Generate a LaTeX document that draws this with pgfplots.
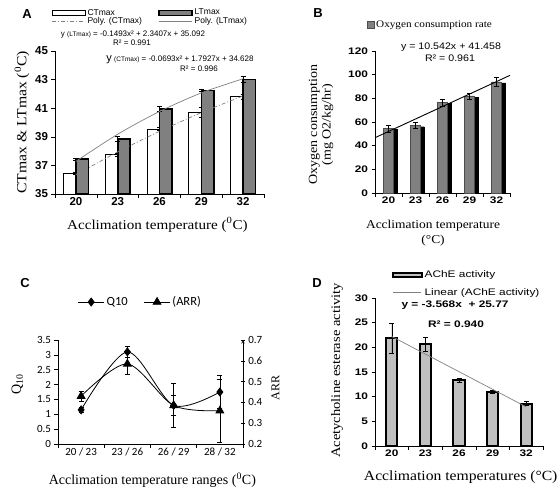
\documentclass[border=0pt]{standalone}
\usepackage{pgfplots}
\usepackage{pgfplotstable}
\pgfplotsset{compat=1.18}
\usepackage{fontspec}
\setmainfont{Liberation Serif}
\newfontfamily\serifW{Liberation Serif}[FakeStretch=1.12]
\newfontfamily\arial{Liberation Sans}
\newfontfamily\arialM{Liberation Sans}[FakeStretch=1.12]
\newfontfamily\arialD{Liberation Sans}[FakeStretch=1.25]
\newfontfamily\calibri{Carlito}
\definecolor{dgray}{HTML}{808080}
\definecolor{lgray}{HTML}{C0C0C0}

\pgfplotstableread{
x ct cte lt lte
0 36.45 0.05 37.45 0.08
1 37.75 0.08 38.85 0.18
2 39.55 0.12 40.95 0.2
3 40.7 0.35 42.25 0.1
4 41.8 0.2 43.0 0.2
}\dataA
\pgfplotstableread{
x ctp ltp
0 36.35 37.28
1 37.94 39.18
2 39.38 40.77
3 40.69 42.07
4 41.86 43.06
}\polyA
\pgfplotstableread{
x y e s
0 54.5 3 53.5
1 57 2.5 56
2 76.5 3 75.5
3 82 2.5 81
4 94 3.5 93
}\dataB
\pgfplotstableread{
x y e
0 21.8 3.0
1 20.6 1.4
2 13.3 0.4
3 11.0 0.25
4 8.6 0.4
}\dataD

\pgfplotsset{
 excel/.style={
  scale only axis, anchor=south west,
  axis x line=bottom, axis y line=left,
  axis line style={-, black, line width=0.6pt},
  tick align=outside, major tick length=3.5pt,
  every tick/.style={black, line width=0.6pt},
  /pgf/number format/assume math mode=true,
  label style={font=\serifW\fontsize{13.5}{15}\selectfont},
  tick label style={font=\arial\bfseries\fontsize{11.5}{13}\selectfont},
  error bars/error bar style={black, line width=0.6pt},
  error bars/error mark options={black, rotate=90, mark size=2.5pt, line width=0.6pt},
  legend style={draw=none, fill=none, inner sep=0pt, outer sep=0pt},
  legend cell align=left,
 },
 boxlegA/.style={legend image code/.code={\draw[##1] (0pt,-2.5pt) rectangle (33pt,2.5pt);}},
 linelegA/.style={legend image code/.code={\draw[##1] (0pt,0pt) -- (33pt,0pt);}},
 boxlegB/.style={legend image code/.code={\draw[##1] (0pt,-3.5pt) rectangle (7pt,3.5pt);}},
 boxlegD/.style={legend image code/.code={\draw[##1, line width=1.8pt] (0pt,-2pt) rectangle (29pt,2pt);}},
 linelegD/.style={legend image code/.code={\draw[##1] (0pt,0pt) -- (28pt,0pt);}},
 marklegC/.style={legend image code/.code={\draw[mark repeat=2,mark phase=2,##1] plot coordinates {(0pt,0pt) (13pt,0pt) (26pt,0pt)};}},
}

\begin{document}
\begin{tikzpicture}
\path[use as bounding box] (0pt,0pt) rectangle (559pt,-488pt);

% ---------------- Panel A ----------------
\begin{axis}[excel, at={(55pt,-194pt)}, width=209pt, height=143pt,
  xmin=-0.5, xmax=4.5, ymin=35, ymax=45,
  ytick={35,37,39,41,43,45},
  xtick={-0.5,0.5,1.5,2.5,3.5,4.5}, xticklabels={},
  extra x ticks={0,1,2,3,4}, extra x tick labels={20,23,26,29,32},
  extra x tick style={major tick length=0pt},
  ylabel={CTmax \& LTmax (\textsuperscript{0}C)},
  xlabel={Acclimation temperature (\textsuperscript{0}C)},
  ylabel style={at={(axis description cs:-0.158,0.5)}, anchor=center, font=\serifW\fontsize{14}{15}\selectfont},
  xlabel style={at={(axis description cs:0.49,-0.215)}, anchor=center},
  legend columns=2,
  legend style={at={(axis description cs:-0.015,1.307)}, anchor=north west,
    font=\arial\fontsize{8.5}{10}\selectfont,
    /tikz/every even column/.append style={column sep=14pt}, row sep=-3pt},
]
\addplot[ybar, bar width=0.3, bar shift=-0.15, fill=white, draw=black, line width=0.7pt,
  boxlegA, error bars/.cd, y dir=both, y explicit]
  table[x=x, y=ct, y error=cte] {\dataA};
\addlegendentry{CTmax}
\addplot[ybar, bar width=0.3, bar shift=0.15, fill=dgray, draw=black, line width=1.6pt,
  boxlegA, error bars/.cd, y dir=both, y explicit]
  table[x=x, y=lt, y error=lte] {\dataA};
\addlegendentry{LTmax}
\addplot[dgray, line width=0.7pt, dash pattern=on 4pt off 2pt on 1pt off 2pt, smooth, linelegA]
  table[x=x, y=ctp] {\polyA};
\addlegendentry{Poly. (CTmax)}
\addplot[dgray, line width=0.7pt, smooth, linelegA]
  table[x=x, y=ltp] {\polyA};
\addlegendentry{Poly. (LTmax)}
\end{axis}

% ---------------- Panel B ----------------
\begin{axis}[excel, at={(375pt,-193pt)}, width=135pt, height=142pt,
  xmin=-0.5, xmax=4.5, ymin=0, ymax=120,
  ytick={0,20,40,60,80,100,120},
  xtick={-0.5,0.5,1.5,2.5,3.5,4.5}, xticklabels={},
  extra x ticks={0,1,2,3,4}, extra x tick labels={20,23,26,29,32},
  extra x tick style={major tick length=0pt},
  tick label style={font=\arialD\bfseries\fontsize{9.5}{11}\selectfont},
  ylabel={Oxygen consumption\\(mg O2/kg/hr)},
  ylabel style={align=center, at={(axis description cs:-0.40,0.48)}, anchor=center, font=\serifW\fontsize{12.5}{13.5}\selectfont},
  xlabel={Acclimation temperature\\(°C)},
  xlabel style={align=center, at={(axis description cs:0.43,-0.28)}, anchor=center, font=\serifW\fontsize{12}{15}\selectfont},
  legend style={at={(axis description cs:0.41,1.183)}, anchor=center,
    font=\serifW\fontsize{10}{12}\selectfont},
]
\addplot[ybar, bar width=0.37, bar shift=0.13, fill=black, draw=black, forget plot]
  table[x=x, y=s] {\dataB};
\addplot[ybar, bar width=0.37, bar shift=0, fill=dgray, draw=black!70, line width=0.4pt,
  boxlegB, error bars/.cd, y dir=both, y explicit]
  table[x=x, y=y, y error=e] {\dataB};
\addlegendentry{Oxygen consumption rate}
\addplot[black, line width=0.9pt, forget plot] coordinates {(-0.5,46.73) (4.5,99.44)};
\end{axis}

% ---------------- Panel C ----------------
\begin{axis}[excel, at={(58pt,-444pt)}, width=185pt, height=104pt,
  xmin=-0.5, xmax=3.5, ymin=0, ymax=3.5,
  ytick={0,0.5,1,1.5,2,2.5,3,3.5}, yticklabels={0,0.5,1,1.5,2,2.5,3,3.5},
  xtick={-0.5,0.5,1.5,2.5,3.5}, xticklabels={},
  extra x ticks={0,1,2,3}, extra x tick labels={20 / 23,23 / 26,26 / 29,28 / 32},
  extra x tick style={major tick length=0pt},
  tick label style={font=\calibri\fontsize{11}{12}\selectfont},
  ylabel={Q\textsubscript{10}},
  ylabel style={at={(axis description cs:-0.22,0.57)}, anchor=center, font=\fontsize{14}{15}\selectfont},
  xlabel={Acclimation temperature ranges (\textsuperscript{0}C)},
  xlabel style={at={(axis description cs:0.51,-0.35)}, anchor=center, font=\fontsize{14}{15}\selectfont},
]
\addplot[black, line width=0.8pt, smooth, mark=diamond*, mark size=4pt, mark options={solid, fill=black},
  error bars/.cd, y dir=both, y explicit]
  coordinates {(0,1.15) +- (0,0.07) (1,3.1) +- (0,0.18) (2,1.3) +- (0,0.35) (3,1.75) +- (0,0.55)};
\end{axis}
\begin{axis}[excel, at={(58pt,-444pt)}, width=185pt, height=104pt,
  axis x line=none, axis y line=right,
  xmin=-0.5, xmax=3.5, ymin=0.2, ymax=0.7,
  ytick={0.2,0.3,0.4,0.5,0.6,0.7}, yticklabels={0.2,0.3,0.4,0.5,0.6,0.7},
  tick label style={font=\calibri\fontsize{11}{12}\selectfont},
  ylabel={ARR},
  ylabel style={at={(axis description cs:1.175,0.54)}, anchor=center, font=\fontsize{12}{14}\selectfont},
  legend columns=2,
  legend style={at={(axis description cs:0.445,1.365)}, anchor=center,
    font=\calibri\fontsize{12.5}{14}\selectfont,
    /tikz/every even column/.append style={column sep=14pt}},
  marklegC,
]
\addlegendimage{black, line width=0.8pt, mark=diamond*, mark size=4pt, mark options={solid, fill=black}}
\addlegendentry{Q10}
\addplot[black, line width=0.8pt, smooth, mark=triangle*, mark size=4.5pt, mark options={solid, fill=black},
  error bars/.cd, y dir=both, y explicit]
  coordinates {(0,0.43) +- (0,0.025) (1,0.585) +- (0,0.05) (2,0.385) +- (0,0.105) (3,0.36) +- (0,0.15)};
\addlegendentry{(ARR)}
\end{axis}

% ---------------- Panel D ----------------
\begin{axis}[excel, at={(375pt,-446pt)}, width=168pt, height=148pt,
  xmin=-0.5, xmax=4.5, ymin=0, ymax=30,
  ytick={0,5,10,15,20,25,30},
  xtick={-0.5,0.5,1.5,2.5,3.5,4.5}, xticklabels={},
  extra x ticks={0,1,2,3,4}, extra x tick labels={20,23,26,29,32},
  extra x tick style={major tick length=0pt},
  tick label style={font=\arialD\bfseries\fontsize{9.5}{11}\selectfont},
  ylabel={Acetycholine esterase activity},
  ylabel style={at={(axis description cs:-0.226,0.51)}, anchor=center, font=\serifW\fontsize{13}{14}\selectfont},
  xlabel={Acclimation temperatures (°C)},
  xlabel style={at={(axis description cs:0.51,-0.21)}, anchor=center, font=\serifW\fontsize{14}{15}\selectfont},
  legend style={at={(axis description cs:0.1,1.095)}, anchor=west,
    font=\arialD\fontsize{9.5}{11}\selectfont, row sep=5pt},
]
\addplot[ybar, bar width=0.33, bar shift=0, fill=lgray, draw=black, line width=2pt,
  boxlegD, error bars/.cd, y dir=both, y explicit]
  table[x=x, y=y, y error=e] {\dataD};
\addlegendentry{AChE activity}
\addplot[dgray, line width=0.7pt, linelegD]
  coordinates {(0,22.2) (4,7.93)};
\addlegendentry{Linear (AChE activity)}
\end{axis}

% ---------------- annotations ----------------
\node[font=\arial\bfseries\fontsize{13}{15}\selectfont] at (27pt,-14pt) {A};
\node[font=\arial\bfseries\fontsize{13}{15}\selectfont] at (318pt,-13pt) {B};
\node[font=\arial\bfseries\fontsize{13}{15}\selectfont] at (25pt,-283pt) {C};
\node[font=\arial\bfseries\fontsize{13}{15}\selectfont] at (317pt,-283pt) {D};

\node[font=\arial\fontsize{8}{9}\selectfont] at (133pt,-35pt) {y {\fontsize{6.5}{7}\selectfont (LTmax)} = -0.1493x² + 2.3407x + 35.092};
\node[font=\arial\fontsize{8}{9}\selectfont] at (132pt,-43pt) {R² = 0.991};
\node[font=\arial\fontsize{8}{9}\selectfont] at (180pt,-60pt) {{\fontsize{11}{12}\selectfont y} {\fontsize{6.5}{7}\selectfont (CTmax)} = -0.0693x² + 1.7927x + 34.628};
\node[font=\arial\fontsize{8}{9}\selectfont] at (199pt,-69pt) {R² = 0.996};

\node[font=\arialM\fontsize{9.5}{11}\selectfont] at (451pt,-47pt) {y = 10.542x + 41.458};
\node[font=\arialM\fontsize{9.5}{11}\selectfont] at (450pt,-58pt) {R² = 0.961};

\node[font=\arialD\bfseries\fontsize{9.5}{11}\selectfont] at (455pt,-305pt) {y = -3.568x \ + 25.77};
\node[font=\arialD\bfseries\fontsize{9.5}{11}\selectfont] at (456pt,-324pt) {R² = 0.940};
\end{tikzpicture}
\end{document}
